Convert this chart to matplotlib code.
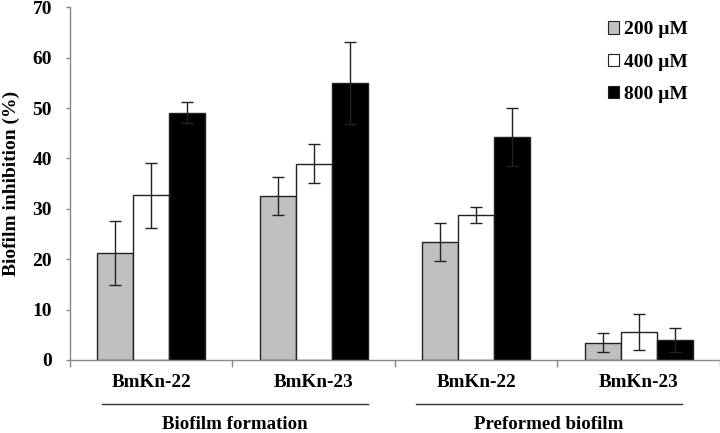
import matplotlib.pyplot as plt
import matplotlib.transforms as mtransforms
from matplotlib.patches import Patch
import numpy as np

plt.rcParams['font.family'] = ['Liberation Serif', 'DejaVu Serif']
plt.rcParams['font.weight'] = 'bold'

# data
categories = ['BmKn-22', 'BmKn-23', 'BmKn-22', 'BmKn-23']
groups = ['Biofilm formation', 'Preformed biofilm']
series = ['200 µM', '400 µM', '800 µM']
vals_200 = [21.2, 32.6, 23.4, 3.4]
vals_400 = [32.7, 39.0, 28.8, 5.5]
vals_800 = [49.1, 55.0, 44.3, 3.9]
err_200 = [6.4, 3.8, 3.8, 1.9]
err_400 = [6.4, 3.8, 1.6, 3.6]
err_800 = [2.1, 8.1, 5.7, 2.4]

colors = ['#c0c0c0', 'white', 'black']

fig = plt.figure(figsize=(7.2, 4.33), dpi=100)
ax = fig.add_axes([0.0972, 0.1686, 0.9028, 0.8144])

x = np.arange(len(categories))
w = 0.222
all_vals = [vals_200, vals_400, vals_800]
all_errs = [err_200, err_400, err_800]
for i, (v, e, c) in enumerate(zip(all_vals, all_errs, colors)):
    ax.bar(x + (i - 1) * w, v, width=w, color=c, edgecolor='#222222', linewidth=1.0,
           yerr=e, error_kw=dict(ecolor='#222222', elinewidth=1.0, capsize=4, capthick=1.0),
           label=series[i], zorder=2)

ax.set_xlim(-0.5, 3.5)
ax.set_ylim(0, 70)
ax.set_yticks(range(0, 71, 10))
ax.set_xticks([])
ax.set_xticks(np.arange(-0.5, 3.6, 1), minor=True)
ax.tick_params(axis='x', which='minor', length=5, color='#888888', width=1)
ax.tick_params(axis='y', length=3, color='#888888', width=1, labelsize=14, pad=10)
for lbl in ax.get_yticklabels():
    lbl.set_fontweight('bold')
for s in ['top', 'right']:
    ax.spines[s].set_visible(False)
for s in ['left', 'bottom']:
    ax.spines[s].set_color('#888888')
    ax.spines[s].set_linewidth(1.0)

ax.set_ylabel('Biofilm inhibition (%)', fontsize=14, fontweight='bold')
ax.yaxis.set_label_coords(-0.077, 0.5)

trans = mtransforms.blended_transform_factory(ax.transData, ax.transAxes)
for xi, name in zip(x, categories):
    ax.text(xi, -0.065, name, transform=trans, ha='center', va='center',
            fontsize=13.8, fontweight='bold')

group_spans = [(-0.30, 1.333), (1.63, 3.265)]
for (x0, x1), g in zip(group_spans, groups):
    ax.plot([x0, x1], [-0.125, -0.125], transform=trans, color='#333333',
            linewidth=1.0, clip_on=False)
    ax.text((x0 + x1) / 2, -0.184, g, transform=trans, ha='center', va='center',
            fontsize=13.6, fontweight='bold')

handles = [Patch(facecolor=c, edgecolor='#222222', linewidth=0.8) for c in colors]
ax.legend(handles, series, loc='upper right', bbox_to_anchor=(0.978, 1.01),
          frameon=False, handlelength=0.6, handleheight=0.6, handletextpad=0.25,
          labelspacing=0.78, prop=dict(size=14, weight='bold'))

fig.savefig('out.png', dpi=100)
